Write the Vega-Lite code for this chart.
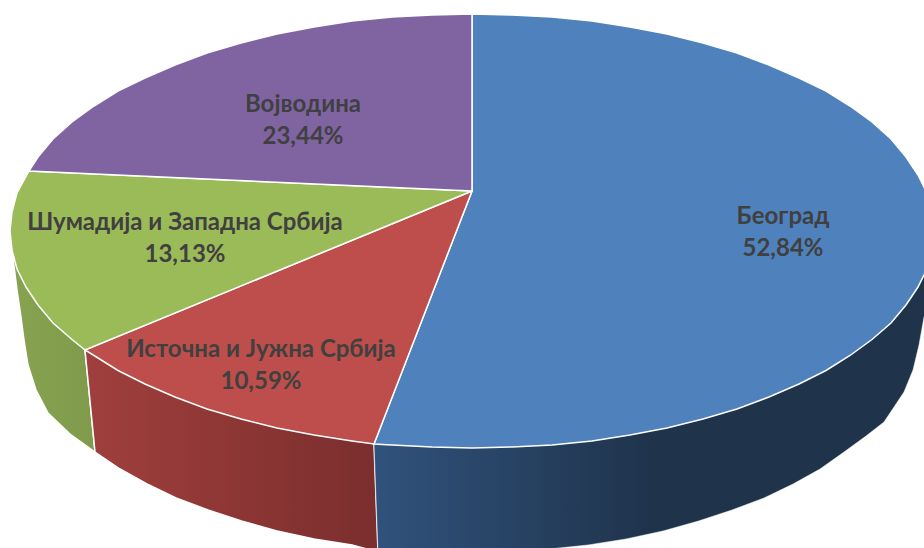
{
"$schema":"https://vega.github.io/schema/vega-lite/v6.json",
"width":924,"height":548,"autosize":{"type":"fit","contains":"padding"},"padding":0,"background":"white",
"config":{"view":{"stroke":null}},
"datasets":{
"greenSide":[{"x":85,"y":350},{"x":13,"y":258},{"x":17,"y":290},{"x":21,"y":317},{"x":24,"y":340},{"x":28,"y":365},{"x":36,"y":390},{"x":48,"y":413},{"x":70,"y":434},{"x":95,"y":452}],
"redSide":[{"x":85,"y":350},{"x":374,"y":444},{"x":378,"y":552},{"x":352,"y":545},{"x":314,"y":539},{"x":277,"y":531},{"x":241.5,"y":521},{"x":208,"y":510},{"x":176,"y":498},{"x":147,"y":484},{"x":120,"y":469},{"x":95,"y":452}],
"blueSide":[{"x":374,"y":444},{"x":472,"y":400},{"x":800,"y":300},{"x":930,"y":260},{"x":930,"y":300},{"x":924,"y":317},{"x":919,"y":345},{"x":913,"y":370},{"x":904,"y":392},{"x":884,"y":422},{"x":866,"y":436},{"x":844,"y":452},{"x":820,"y":469},{"x":793,"y":484},{"x":764,"y":498},{"x":732,"y":510},{"x":698.5,"y":521},{"x":663,"y":531},{"x":626,"y":539},{"x":588,"y":545},{"x":549,"y":549},{"x":510,"y":552},{"x":470,"y":553},{"x":430,"y":552},{"x":391,"y":549},{"x":378,"y":552}],
"blueTop":[{"x":472,"y":191},{"x":472,"y":14},{"x":512,"y":15},{"x":552,"y":17},{"x":592,"y":21},{"x":630,"y":27},{"x":667,"y":34},{"x":703,"y":43},{"x":737,"y":53},{"x":769,"y":65},{"x":799,"y":78},{"x":826,"y":91},{"x":850,"y":106},{"x":872,"y":122},{"x":891,"y":139},{"x":906,"y":157},{"x":918,"y":175},{"x":927,"y":193},{"x":932,"y":212},{"x":934,"y":231},{"x":932,"y":250},{"x":927,"y":269},{"x":918,"y":287},{"x":906,"y":305},{"x":891,"y":323},{"x":872,"y":339.5},{"x":850,"y":355.5},{"x":826,"y":370.5},{"x":799,"y":384},{"x":769,"y":397},{"x":737,"y":409},{"x":703,"y":419},{"x":667,"y":428},{"x":630,"y":435},{"x":592,"y":441},{"x":552,"y":445},{"x":512,"y":447},{"x":472,"y":448},{"x":432,"y":447},{"x":392,"y":445},{"x":374,"y":444}],
"redTop":[{"x":472,"y":191},{"x":374,"y":444},{"x":352,"y":441},{"x":314,"y":435},{"x":277,"y":428},{"x":241,"y":419},{"x":207,"y":409},{"x":175,"y":397},{"x":145,"y":384},{"x":118,"y":370.5},{"x":94,"y":355.5},{"x":85,"y":350}],
"greenTop":[{"x":472,"y":191},{"x":85,"y":350},{"x":72,"y":339.5},{"x":53,"y":323},{"x":38,"y":305},{"x":26,"y":287},{"x":17,"y":269},{"x":12,"y":250},{"x":10,"y":231},{"x":12,"y":212},{"x":17,"y":193},{"x":29,"y":171}],
"purpleTop":[{"x":472,"y":191},{"x":29,"y":171},{"x":38,"y":157},{"x":53,"y":139},{"x":72,"y":122},{"x":94,"y":106},{"x":118,"y":91},{"x":145,"y":78},{"x":175,"y":65},{"x":207,"y":53},{"x":241,"y":43},{"x":277,"y":34},{"x":314,"y":27},{"x":352,"y":21},{"x":392,"y":17},{"x":432,"y":15},{"x":472,"y":14}],
"labels":[{"region":"Београд","share":52.84,"label":"Београд\n52,84%","x":783,"y":217},{"region":"Војводина","share":23.44,"label":"Војводина\n23,44%","x":303,"y":105},{"region":"Шумадија и Западна Србија","share":13.13,"label":"Шумадија и Западна Србија\n13,13%","x":185,"y":223},{"region":"Источна и Јужна Србија","share":10.59,"label":"Источна и Јужна Србија\n10,59%","x":261,"y":350}]
},
"encoding":{
"x":{"field":"x","type":"quantitative","axis":null,"scale":{"domain":[0,924]}},
"y":{"field":"y","type":"quantitative","axis":null,"scale":{"domain":[0,548],"reverse":true}}
},
"layer":[
{"data":{"name":"greenSide"},"transform":[{"window":[{"op":"row_number","as":"i"}]}],"encoding":{"order":{"field":"i"}},"mark":{"type":"line","clip":true,"interpolate":"linear-closed","strokeWidth":1.5,"stroke":"white","fill":{"gradient":"linear","x1":0,"y1":0,"x2":1,"y2":0,"stops":[{"offset":0,"color":"#87a350"},{"offset":1,"color":"#7f9a4b"}]}}},
{"data":{"name":"redSide"},"transform":[{"window":[{"op":"row_number","as":"i"}]}],"encoding":{"order":{"field":"i"}},"mark":{"type":"line","clip":true,"interpolate":"linear-closed","strokeWidth":1.5,"stroke":"white","fill":{"gradient":"linear","x1":0,"y1":0,"x2":1,"y2":0,"stops":[{"offset":0,"color":"#a03f3d"},{"offset":1,"color":"#7a2e2d"}]}}},
{"data":{"name":"blueSide"},"transform":[{"window":[{"op":"row_number","as":"i"}]}],"encoding":{"order":{"field":"i"}},"mark":{"type":"line","clip":true,"interpolate":"linear-closed","strokeWidth":0.5,"stroke":"white","fill":{"gradient":"linear","x1":0,"y1":0,"x2":1,"y2":0,"stops":[{"offset":0,"color":"#30527c"},{"offset":0.5,"color":"#1f334b"},{"offset":1,"color":"#1f334b"}]}}},
{"data":{"name":"blueTop"},"transform":[{"window":[{"op":"row_number","as":"i"}]}],"encoding":{"order":{"field":"i"}},"mark":{"type":"line","clip":true,"interpolate":"linear-closed","strokeWidth":1.5,"stroke":"white","fill":"#4f81bd"}},
{"data":{"name":"redTop"},"transform":[{"window":[{"op":"row_number","as":"i"}]}],"encoding":{"order":{"field":"i"}},"mark":{"type":"line","clip":true,"interpolate":"linear-closed","strokeWidth":1.5,"stroke":"white","fill":"#bd4e4b"}},
{"data":{"name":"greenTop"},"transform":[{"window":[{"op":"row_number","as":"i"}]}],"encoding":{"order":{"field":"i"}},"mark":{"type":"line","clip":true,"interpolate":"linear-closed","strokeWidth":1.5,"stroke":"white","fill":"#9bbb59"}},
{"data":{"name":"purpleTop"},"transform":[{"window":[{"op":"row_number","as":"i"}]}],"encoding":{"order":{"field":"i"}},"mark":{"type":"line","clip":true,"interpolate":"linear-closed","strokeWidth":1.5,"stroke":"white","fill":"#8064a2"}},
{"data":{"name":"labels"},"mark":{"type":"text","font":"Lato","fontWeight":"bold","fontSize":24,"lineHeight":32,"lineBreak":"\n","color":"#404040","align":"center","baseline":"middle"},"encoding":{"text":{"field":"label","type":"nominal"}}}
]
}
